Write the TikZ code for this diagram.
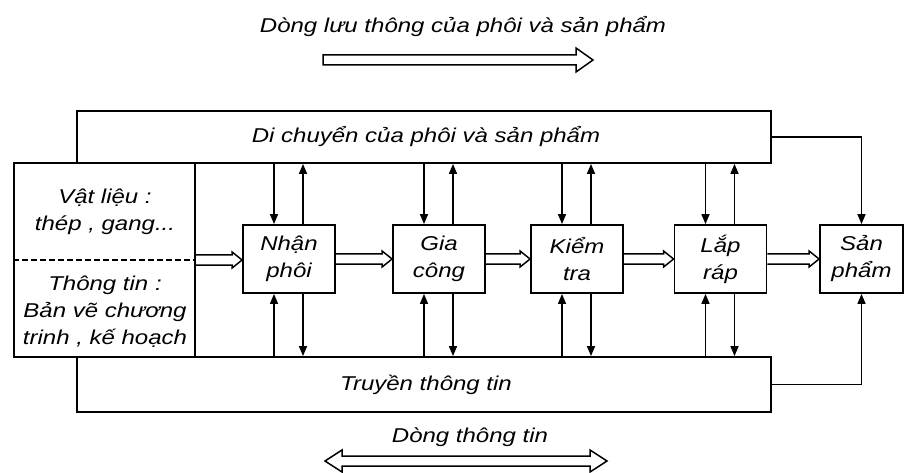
\documentclass[tikz,border=0pt]{standalone}
\usepackage{fontspec}
\setmainfont{Liberation Sans}[FakeStretch=1.2]
\usetikzlibrary{arrows.meta,calc}
\begin{document}
\begin{tikzpicture}[x=1pt,y=-1pt,
  every node/.style={font=\fontsize{20}{27}\selectfont\itshape, inner sep=0pt},
  stepbox/.style={draw, line width=1.8pt, minimum width=92pt, minimum height=68pt, align=center},
  bandbox/.style={draw, line width=1.8pt, minimum width=694pt},
  conn/.style={line width=1.6pt, -{Triangle[length=10pt,width=8pt]}},
  hollow/.style={line width=1.5pt, to path={let \p1=(\tikztostart), \p2=(\tikztotarget) in
     (\x1,\y1+5pt) -- (\x2-10pt,\y1+5pt) -- (\x2-10pt,\y1+8pt) -- (\x2,\y1) -- (\x2-10pt,\y1-8pt) -- (\x2-10pt,\y1-5pt) -- (\x1,\y1-5pt)}},
  legend/.style={line width=1.5pt, line join=miter}
]
\useasboundingbox (0,0) rectangle (905,473);

% bands
\node[bandbox, minimum height=52pt] (top) at (424,137) {};
\node at (426,137) {Di chuyển của phôi và sản phẩm};
\node[bandbox, minimum height=55pt] (bot) at (424,384.5) {};
\node at (426,385) {Truyền thông tin};

% left input box
\node[draw, line width=1.8pt, minimum width=181pt, minimum height=194pt, fill=white] (left) at (104.5,260) {};
\draw[line width=1.3pt, dashed, dash pattern=on 6pt off 3pt] (left.west) -- (left.east);
\node[align=center] (mat) at (105,212) {Vật liệu :\\thép , gang...};
\node[align=center] (inf) at (105,312) {Thông tin :\\Bản vẽ chương\\trinh , kế hoạch};

% step boxes
\node[stepbox] (np) at (289,259) {Nhận\\phôi};
\node[stepbox] (gc) at (439,259) {Gia\\công};
\node[stepbox] (kt) at (577,259) {Kiểm\\tra};
\node[stepbox] (lr) at (720.5,259) {Lắp\\ráp};
\node[stepbox, minimum width=83pt] (sp) at (861.5,259) {Sản\\phẩm};

% hollow flow arrows
\draw[hollow] (left.east) to (np.west);
\draw[hollow] (np.east) to (gc.west);
\draw[hollow] (gc.east) to (kt.west);
\draw[hollow] (kt.east) to (lr.west);
\draw[hollow] (lr.east) to (sp.west);

% vertical connectors
\foreach \n in {np,gc,kt,lr}{
  \coordinate (\n tl) at ($(\n.north)+(-15,0)$);
  \coordinate (\n tr) at ($(\n.north)+(14,0)$);
  \coordinate (\n bl) at ($(\n.south)+(-15,0)$);
  \coordinate (\n br) at ($(\n.south)+(14,0)$);
  \draw[conn] (\n tl |- top.south) -- (\n tl);
  \draw[conn] (\n tr) -- (\n tr |- top.south);
  \draw[conn] (\n bl |- bot.north) -- (\n bl);
  \draw[conn] (\n br) -- (\n br |- bot.north);
}
\draw[conn] (top.east) -| (sp.north);
\draw[conn] (bot.east) -| (sp.south);

% legends
\node at (463,27) {Dòng lưu thông của phôi và sản phẩm};
\draw[legend] (323,55) -- (576,55) -- (576,48) -- (593,60) -- (576,72) -- (576,65) -- (323,65) -- cycle;
\node at (470,437) {Dòng thông tin};
\draw[legend] (325,461) -- (342,450) -- (342,456) -- (590,456) -- (590,450) -- (607,461) -- (590,472) -- (590,466) -- (342,466) -- (342,472) -- cycle;
\end{tikzpicture}
\end{document}
